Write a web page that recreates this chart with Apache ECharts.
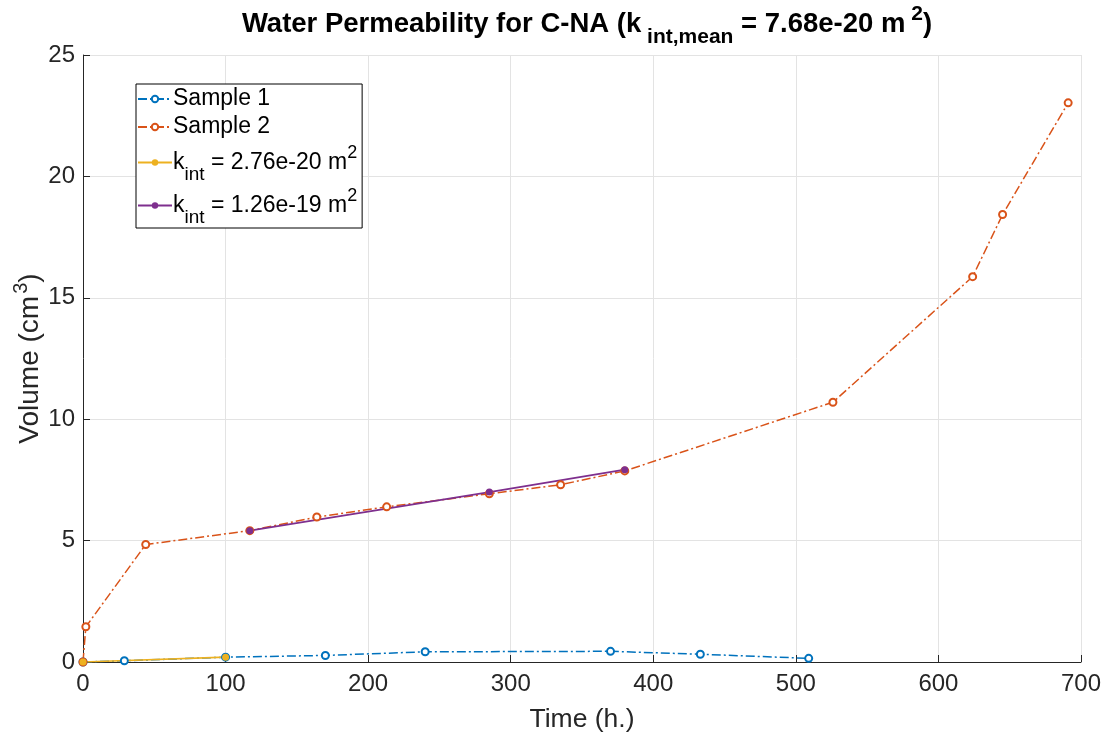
<!DOCTYPE html>
<html>
<head>
<meta charset="utf-8">
<script src="https://cdn.jsdelivr.net/npm/echarts@6/dist/echarts.min.js"></script>
<style>
  html, body { margin: 0; padding: 0; background: #fff; }
  #chart { width: 1106px; height: 736px; }
</style>
</head>
<body>
<div id="chart"></div>
<script>
// values (time in h., volume in cm3)
const sample1 = [[0, 0], [29, 0.05], [100, 0.2], [170, 0.27], [240, 0.42], [370, 0.44], [433, 0.32], [509, 0.15]];
const sample2 = [[0, 0], [2, 1.45], [44, 4.84], [117, 5.41], [164, 5.97], [213, 6.39], [285, 6.93], [335, 7.3], [380, 7.87],
  [526, 10.7], [624, 15.87], [645, 18.43], [691, 23.03]];
const fit1 = [[0, 0], [100, 0.2]];
const fit2 = [[117, 5.41], [285, 7.0], [380, 7.92]];
const seriesNames = ['Sample 1', 'Sample 2', 'k1', 'k2'];
const legendLabels = {
  'Sample 1': 'Sample 1',
  'Sample 2': 'Sample 2',
  'k1': 'k{sub|int} = 2.76e-20 m{sup|2}',
  'k2': 'k{sub|int} = 1.26e-19 m{sup|2}'
};
const colors = ['#0072BD', '#D95319', '#EDB120', '#7E2F8E'];
const dashDot = [9, 3, 2, 3];

const chart = echarts.init(document.getElementById('chart'));

const font = 'Liberation Sans';
const ink = '#262626';

function sampleSeries(name, data, color) {
  return {
    name: name,
    type: 'line',
    data: data,
    symbol: 'emptyCircle',
    symbolSize: 7,
    showAllSymbol: true,
    animation: false,
    lineStyle: { color: color, width: 1.5, type: dashDot },
    itemStyle: { color: color, borderColor: color, borderWidth: 1.8 }
  };
}
function fitSeries(name, data, color) {
  return {
    name: name,
    type: 'line',
    data: data,
    symbol: 'circle',
    symbolSize: 7,
    animation: false,
    lineStyle: { color: color, width: 1.7 },
    itemStyle: { color: color }
  };
}

const option = {
  backgroundColor: '#ffffff',
  color: colors,
  title: {
    text: 'Water Permeability for C-NA (k{sub| int,mean} = 7.68e-20 m{sup| 2})',
    left: 582,
    textAlign: 'center',
    top: 4,
    padding: 5,
    textStyle: {
      fontFamily: font,
      fontSize: 27.5,
      lineHeight: 30,
      fontWeight: 'bold',
      color: '#000',
      rich: {
        sub: { fontFamily: font, fontSize: 21, lineHeight: 21, fontWeight: 'bold', color: '#000', padding: [26, 0, 0, 0] },
        sup: { fontFamily: font, fontSize: 21, lineHeight: 21, fontWeight: 'bold', color: '#000', padding: [0, 0, 20, 0] }
      }
    }
  },
  legend: {
    orient: 'vertical',
    left: 136,
    top: 84,
    data: seriesNames,
    itemWidth: 34,
    itemHeight: 8,
    itemGap: 0,
    padding: [1, 5, 1, 1],
    borderColor: '#000',
    borderWidth: 1,
    borderRadius: 0,
    backgroundColor: '#fff',
    formatter: function (name) { return legendLabels[name]; },
    textStyle: {
      fontFamily: font,
      fontSize: 23,
      lineHeight: 28,
      color: '#000',
      padding: [0, 0, 0, -4],
      rich: {
        sub: { fontFamily: font, fontSize: 19, lineHeight: 20, color: '#000', padding: [24, 0, 0, 0] },
        sup: { fontFamily: font, fontSize: 18, lineHeight: 18, color: '#000', padding: [0, 0, 18, 0] }
      }
    }
  },
  grid: { left: 83, right: 25, top: 55, bottom: 74, containLabel: false, outerBoundsMode: 'none' },
  xAxis: {
    type: 'value',
    min: 0,
    max: 700,
    interval: 100,
    name: 'Time (h.)',
    nameLocation: 'middle',
    nameGap: 44,
    nameMoveOverlap: false,
    nameTextStyle: { fontFamily: font, fontSize: 26.5, color: ink },
    axisLine: { show: true, onZero: false, lineStyle: { color: ink, width: 1 } },
    axisTick: { show: true, inside: true, length: 7, lineStyle: { color: ink } },
    axisLabel: { fontFamily: font, fontSize: 24, color: ink, margin: 10 },
    splitLine: { show: true, lineStyle: { color: '#e3e3e3', width: 1 } }
  },
  yAxis: {
    type: 'value',
    min: 0,
    max: 25,
    interval: 5,
    name: 'Volume (cm{sup|3})',
    nameLocation: 'middle',
    nameGap: 33,
    nameMoveOverlap: false,
    nameTextStyle: {
      fontFamily: font,
      fontSize: 28,
      color: ink,
      rich: { sup: { fontFamily: font, fontSize: 20, color: ink, padding: [0, 0, 19, 2] } }
    },
    axisLine: { show: true, lineStyle: { color: ink, width: 1 } },
    axisTick: { show: true, inside: true, length: 7, lineStyle: { color: ink } },
    axisLabel: { fontFamily: font, fontSize: 24, color: ink, margin: 8 },
    splitLine: { show: true, lineStyle: { color: '#e3e3e3', width: 1 } }
  },
  series: [
    sampleSeries('Sample 1', sample1, colors[0]),
    sampleSeries('Sample 2', sample2, colors[1]),
    fitSeries('k1', fit1, colors[2]),
    fitSeries('k2', fit2, colors[3])
  ]
};

chart.setOption(option);
</script>
</body>
</html>
